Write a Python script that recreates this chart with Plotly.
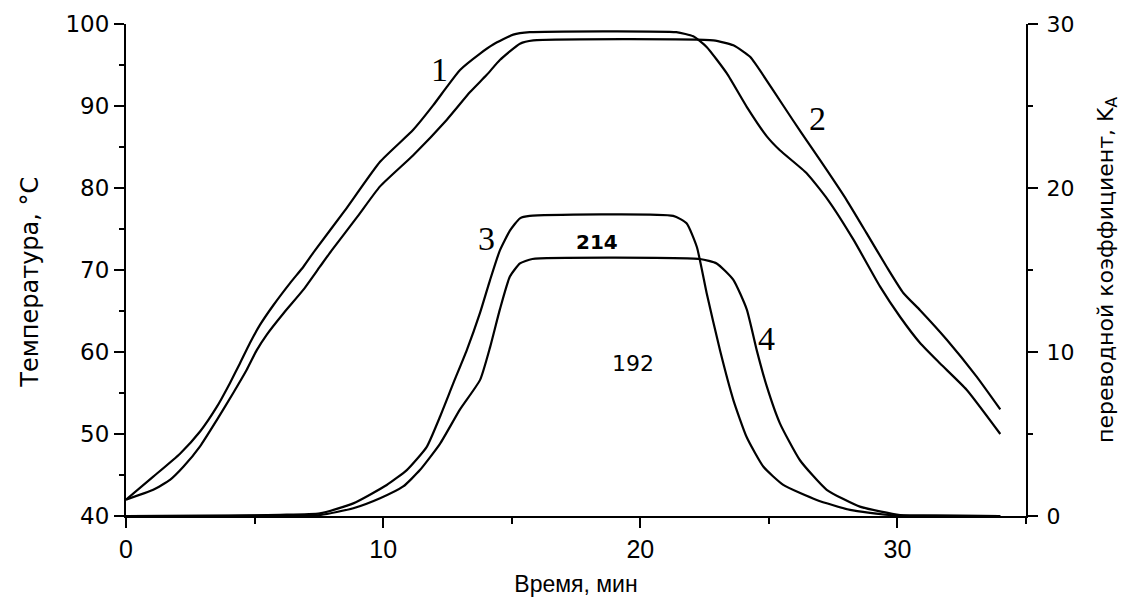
import plotly.graph_objects as go

# --- data ---
t1 = [0, 1.06, 2.1, 2.88, 3.53, 4.04, 4.43, 4.82, 5.21, 5.73, 6.38, 6.9, 7.35, 8.5, 9.88,
      11.17, 11.95, 12.47, 12.99, 13.77, 14.28, 15.06, 15.7, 21.4, 22.06, 22.58, 23.36,
      24.14, 24.92, 25.43, 26.47, 27.31, 28.29, 29.32, 30.1, 30.88, 31.66, 32.69, 34.0]
T1 = [42, 44.8, 47.6, 50.3, 53.3, 56.2, 58.6, 61.1, 63.3, 65.7, 68.4, 70.4, 72.4, 77.2, 83.2,
      87.1, 90.1, 92.3, 94.4, 96.4, 97.5, 98.7, 99.0, 99.0, 98.5, 97.2, 94.0,
      89.9, 86.3, 84.6, 81.8, 78.5, 73.7, 68.0, 64.3, 61.1, 58.6, 55.4, 50.0]

t2 = [0, 1.06, 1.71, 2.23, 2.88, 3.53, 4.17, 4.69, 5.08, 5.47, 6.12, 6.9, 7.54, 8.0, 9.0, 9.88,
      11.17, 12.47, 13.38, 14.03, 14.54, 15.32, 15.84, 22.84, 23.62, 24.27, 25.17, 25.95,
      26.6, 27.25, 28.03, 28.8, 29.58, 30.23, 30.88, 31.92, 33.08, 34.0]
T2 = [42, 43.2, 44.4, 46.0, 48.5, 51.7, 55.0, 57.8, 60.2, 62.1, 64.7, 67.6, 70.4, 72.4, 76.5, 80.2,
      84.0, 88.3, 91.7, 93.8, 95.6, 97.6, 98.0, 98.0, 97.4, 96.0, 91.9, 88.2,
      85.2, 82.2, 78.5, 74.5, 70.4, 67.2, 65.1, 61.5, 57.0, 53.0]

t3 = [0, 4, 6, 7.54, 8.84, 10.14, 10.92, 11.69, 12.21, 12.73, 13.25, 13.77, 14.16, 14.54, 14.93,
      15.32, 15.7, 21.28, 21.8, 22.2, 22.58, 23.1, 23.62, 24.14, 24.79, 25.56, 26.86, 28.16,
      29.71, 31, 34]
K3 = [0, 0.02, 0.07, 0.16, 0.77, 1.89, 2.8, 4.2, 6.05, 8.1, 10.1, 12.4, 14.4, 16.2, 17.4,
      18.15, 18.3, 18.3, 17.85, 16.4, 13.6, 10.1, 7.07, 4.8, 3.0, 1.9, 0.98, 0.37,
      0.06, 0.02, 0]

t4 = [0, 4, 6, 7.54, 8.84, 9.88, 10.78, 11.43, 12.21, 12.99, 13.77, 14.16, 14.54, 14.93, 15.32,
      15.8, 22.32, 22.97, 23.62, 24.14, 24.53, 24.92, 25.43, 26.21, 27.25, 28.54, 30.1, 31.5, 34]
K4 = [0, 0.01, 0.04, 0.06, 0.47, 1.08, 1.8, 2.8, 4.4, 6.5, 8.3, 10.3, 12.6, 14.6, 15.4,
      15.67, 15.67, 15.4, 14.4, 12.6, 10.1, 7.9, 5.65, 3.4, 1.6, 0.57, 0.06, 0.02, 0]

curve_labels = ["1", "2", "3", "4"]
label_t = [12.2, 26.9, 14.0, 24.9]
label_T = [94.4, 88.5, 73.8, 61.6]
note_text = ["<b>214</b>", "192"]
note_t = [18.3, 19.7]
note_T = [73.4, 58.6]

x_ticks = [0, 10, 20, 30]
yl_ticks = [40, 50, 60, 70, 80, 90, 100]
yr_ticks = [0, 10, 20, 30]

x_title = "Время, мин"
yl_title = "Температура, °C"
yr_title = "переводной коэффициент, K<sub>A</sub>"

line = dict(color="black", width=2.2, shape="spline", smoothing=0.5)

fig = go.Figure()
fig.add_trace(go.Scatter(x=t1, y=T1, mode="lines", line=line, name="1"))
fig.add_trace(go.Scatter(x=t2, y=T2, mode="lines", line=line, name="2"))
fig.add_trace(go.Scatter(x=t3, y=K3, mode="lines", line=line, name="3", yaxis="y2"))
fig.add_trace(go.Scatter(x=t4, y=K4, mode="lines", line=line, name="4", yaxis="y2"))

for s, x, y in zip(curve_labels, label_t, label_T):
    fig.add_annotation(x=x, y=y, xref="x", yref="y", text=s, showarrow=False,
                       font=dict(family="Liberation Serif", size=34, color="black"))
for s, x, y, sz in zip(note_text, note_t, note_T, [20, 22]):
    fig.add_annotation(x=x, y=y, xref="x", yref="y", text=s, showarrow=False,
                       font=dict(family="DejaVu Sans", size=sz, color="black"))

# left axis title (placed as a rotated label beside the left axis)
fig.add_annotation(x=-0.1067, y=0.476, xref="paper", yref="paper", text=yl_title,
                   textangle=-90, showarrow=False, xanchor="center", yanchor="middle",
                   font=dict(family="DejaVu Sans", size=24, color="black"))

axis_common = dict(showline=True, linecolor="black", linewidth=2, ticks="outside",
                   ticklen=10, tickwidth=2, tickcolor="black", showgrid=False,
                   zeroline=False, mirror=False, automargin=False)

fig.update_layout(
    template="none",
    width=1124, height=593, autosize=False,
    margin=dict(l=118, r=106, t=16, b=85),
    paper_bgcolor="white", plot_bgcolor="white",
    showlegend=False,
    font=dict(family="Liberation Sans", color="black"),
    xaxis=dict(range=[0, 35], tickvals=x_ticks, **axis_common,
               minor=dict(dtick=5, tick0=0, ticks="outside", ticklen=6, tickwidth=2,
                          tickcolor="black", showgrid=False),
               tickfont=dict(family="Liberation Sans", size=25),
               title=dict(text=x_title,
                          font=dict(family="Liberation Sans", size=23),
                          standoff=14)),
    yaxis=dict(range=[40, 100], tickvals=yl_ticks, **axis_common,
               minor=dict(dtick=5, tick0=40, ticks="outside", ticklen=5, tickwidth=2,
                          tickcolor="black", showgrid=False),
               tickfont=dict(family="DejaVu Sans", size=23)),
    yaxis2=dict(range=[0, 30], tickvals=yr_ticks, overlaying="y", side="right",
                anchor="x", **axis_common, ticklabelstandoff=4,
                minor=dict(dtick=5, tick0=0, ticks="outside", ticklen=5, tickwidth=2,
                           tickcolor="black", showgrid=False),
                tickfont=dict(family="DejaVu Sans", size=22),
                title=dict(text=yr_title,
                           font=dict(family="DejaVu Sans", size=22), standoff=24)),
)

fig.write_html("out.html")
